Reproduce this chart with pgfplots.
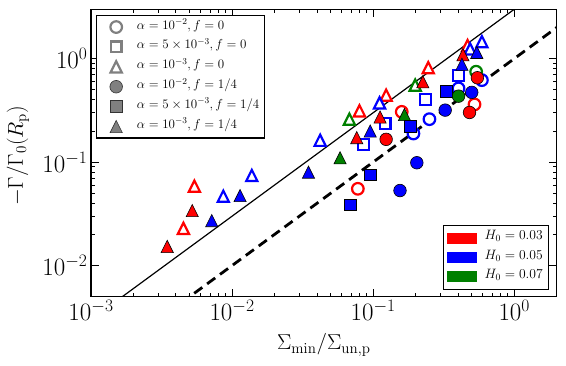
\RequirePackage{fix-cm}
\documentclass[border=0pt]{standalone}
\usepackage{pgfplots}
\pgfplotsset{compat=1.18}

\definecolor{mred}{rgb}{1,0,0}
\definecolor{mblue}{rgb}{0,0,1}
\definecolor{mgreen}{rgb}{0,0.5,0}
\definecolor{mgray}{rgb}{0.5,0.5,0.5}

% matplotlib-style '^' marker: apex at +s, base at -s
\pgfdeclareplotmark{mtri}{%
  \pgfpathmoveto{\pgfqpoint{0pt}{\pgfplotmarksize}}%
  \pgfpathlineto{\pgfqpoint{-\pgfplotmarksize}{-\pgfplotmarksize}}%
  \pgfpathlineto{\pgfqpoint{\pgfplotmarksize}{-\pgfplotmarksize}}%
  \pgfpathclose
  \pgfusepathqfillstroke}

\pgfplotsset{
  open/.style={only marks, forget plot, mark options={draw=#1, fill=white, line width=2.2pt, line join=miter}},
  filled/.style={only marks, forget plot, mark options={draw=black, fill=#1, line width=0.6pt, line join=miter}},
  ocirc/.style={open=#1, mark=*, mark size=5.8pt},
  osq/.style={open=#1, mark=square*, mark size=5.4pt},
  otri/.style={open=#1, mark=mtri, mark size=5.6pt},
  fcirc/.style={filled=#1, mark=*, mark size=6.3pt},
  fsq/.style={filled=#1, mark=square*, mark size=5.9pt},
  ftri/.style={filled=#1, mark=mtri, mark size=6.1pt},
}

\begin{document}
\begin{tikzpicture}
\begin{axis}[
  name=main,
  scale only axis, width=465.7pt, height=287.4pt,
  xmode=log, ymode=log,
  xmin=1e-3, xmax=2, ymin=5e-3, ymax=3,
  xtick={1e-3,1e-2,1e-1,1}, ytick={1e-2,1e-1,1},
  axis line style={line width=1.2pt},
  every tick/.style={black, line width=0.9pt},
  major tick length=8pt, minor tick length=4pt,
  tick label style={font=\fontsize{25}{25}\selectfont},
  label style={font=\fontsize{21.5}{24}\selectfont},
  xlabel={$\Sigma_{\rm min}/\Sigma_{\rm un,p}$},
  ylabel={$-\Gamma/\Gamma_0(R_{\rm p})$},
  xlabel style={at={(axis description cs:0.5,-0.168)}, anchor=center},
  ylabel style={at={(axis description cs:-0.1568,0.49)}, anchor=center},
  legend style={at={(axis description cs:0.01074,0.9802)}, anchor=north west,
    font=\fontsize{13}{15}\selectfont, draw=black, line width=1.2pt,
    inner xsep=3pt, inner ysep=1.5pt, column sep=3.2pt, row sep=0pt,
    nodes={inner xsep=2pt, inner ysep=0pt, text height=12pt, text depth=7.9pt}},
  legend cell align=left,
  legend image code/.code={\path (0pt,0pt) (31pt,0pt); \draw[#1] plot coordinates {(16pt,0pt)};},
]
% legend: marker shapes in gray
\addlegendimage{only marks, mark=*, mark size=5.8pt, mark options={draw=mgray, fill=white, line width=2.2pt}}
\addlegendentry{$\alpha=10^{-2}, f=0$}
\addlegendimage{only marks, mark=square*, mark size=5.4pt, mark options={draw=mgray, fill=white, line width=2.2pt}}
\addlegendentry{$\alpha=5\times10^{-3}, f=0$}
\addlegendimage{only marks, mark=mtri, mark size=5.6pt, mark options={draw=mgray, fill=white, line width=2.2pt, line join=miter}}
\addlegendentry{$\alpha=10^{-3}, f=0$}
\addlegendimage{only marks, mark=*, mark size=6.3pt, mark options={draw=black!80, fill=mgray, line width=0.6pt}}
\addlegendentry{$\alpha=10^{-2}, f=1/4$}
\addlegendimage{only marks, mark=square*, mark size=5.9pt, mark options={draw=black!80, fill=mgray, line width=0.6pt}}
\addlegendentry{$\alpha=5\times10^{-3}, f=1/4$}
\addlegendimage{only marks, mark=mtri, mark size=6.1pt, mark options={draw=black!80, fill=mgray, line width=0.6pt}}
\addlegendentry{$\alpha=10^{-3}, f=1/4$}

% f = 0 (open markers)
\addplot[otri=mred] coordinates {(4.52e-3,0.0229) (5.41e-3,0.0585) (0.080,0.313) (0.1236,0.444) (0.246,0.818) (0.467,1.34)};
\addplot[otri=mblue] coordinates {(8.67e-3,0.0468) (0.0138,0.0743) (0.0421,0.1625) (0.111,0.374) (0.487,1.24) (0.59,1.46)};
\addplot[otri=mgreen] coordinates {(0.0679,0.26) (0.1986,0.555)};
\addplot[osq=mblue] coordinates {(0.0853,0.1485) (0.1216,0.236) (0.234,0.404) (0.403,0.684)};
\addplot[ocirc=mred] coordinates {(0.0779,0.0552) (0.1595,0.306) (0.523,0.361)};
\addplot[ocirc=mblue] coordinates {(0.193,0.189) (0.2506,0.26) (0.403,0.516) (0.59,0.62)};
\addplot[ocirc=mgreen] coordinates {(0.537,0.748)};

% f = 1/4 (filled markers)
\addplot[ftri=mred] coordinates {(3.47e-3,0.0153) (5.22e-3,0.034) (0.0765,0.1725) (0.112,0.273) (0.225,0.598) (0.433,1.09)};
\addplot[ftri=mblue] coordinates {(7.18e-3,0.0272) (0.0114,0.0475) (0.0348,0.080) (0.0953,0.20) (0.426,0.883) (0.543,1.15)};
\addplot[ftri=mgreen] coordinates {(0.0583,0.110) (0.1667,0.288)};
\addplot[fsq=mblue] coordinates {(0.0687,0.0386) (0.0953,0.0755) (0.1828,0.222) (0.33,0.485)};
\addplot[fcirc=mred] coordinates {(0.1236,0.166) (0.482,0.302) (0.548,0.654)};
\addplot[fcirc=mblue] coordinates {(0.155,0.0531) (0.204,0.0986) (0.324,0.318) (0.50,0.472)};
\addplot[fcirc=mgreen] coordinates {(0.403,0.434)};

% reference lines
\addplot[black, line width=1.2pt, forget plot] coordinates {(1e-3,3e-3) (2,6)};
\addplot[black, line width=2.8pt, dash pattern=on 10pt off 6pt, forget plot] coordinates {(1e-3,1e-3) (2,2)};
\end{axis}

% second legend: H_0 colours
\begin{axis}[
  scale only axis, width=465.7pt, height=287.4pt,
  hide axis, xmin=0, xmax=1, ymin=0, ymax=1,
  legend style={at={(axis description cs:0.9841,0.0233)}, anchor=south east,
    font=\fontsize{13.6}{16}\selectfont, draw=black, line width=1.2pt,
    inner xsep=4pt, inner ysep=3pt, column sep=6pt, row sep=0pt,
    nodes={inner xsep=2pt, inner ysep=0pt, text height=11.6pt, text depth=7.75pt}},
  legend cell align=left,
  legend image code/.code={\fill[#1] (0pt,-5.5pt) rectangle (29.4pt,5.5pt);},
]
\addlegendimage{fill=mred, draw=none}
\addlegendentry{$H_0=0.03$}
\addlegendimage{fill=mblue, draw=none}
\addlegendentry{$H_0=0.05$}
\addlegendimage{fill=mgreen, draw=none}
\addlegendentry{$H_0=0.07$}
\end{axis}

\pgfresetboundingbox
\useasboundingbox ([shift={(-91pt,-69.3pt)}]main.south west) rectangle ([shift={(9.3pt,9.3pt)}]main.north east);
\end{tikzpicture}
\end{document}
